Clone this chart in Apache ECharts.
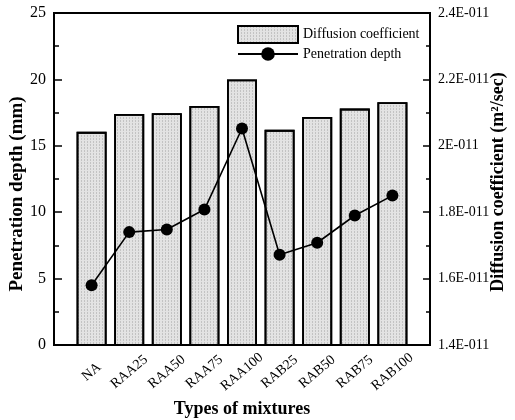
<!DOCTYPE html>
<html><head><meta charset="utf-8">
<script src="https://cdn.jsdelivr.net/npm/echarts@6/dist/echarts.min.js"></script>
<style>html,body{margin:0;padding:0;background:#fff}#c{width:515px;height:420px}</style>
</head><body><div id="c"></div>
<script>
const categories = ['NA','RAA25','RAA50','RAA75','RAA100','RAB25','RAB50','RAB75','RAB100'];
const diffusionCoefficient = [2.042e-11, 2.096e-11, 2.098e-11, 2.12e-11, 2.2e-11, 2.048e-11, 2.087e-11, 2.112e-11, 2.131e-11];
const penetrationDepth = [4.5, 8.5, 8.7, 10.2, 16.3, 6.8, 7.7, 9.75, 11.25];
const leftTicks = {min: 0, max: 25, interval: 5};
const rightTicks = {min: 1.4, max: 2.4, interval: 0.2}; // in units of 1E-011
const SCALE = 1e-11;

const font = 'Liberation Serif';
const chart = echarts.init(document.getElementById('c'), null, {renderer: 'canvas'});
chart.setOption({
  animation: false,
  backgroundColor: '#fff',
  grid: {left: 54, right: 85, top: 13, bottom: 75, show: true, borderColor: '#000', borderWidth: 2,
    backgroundColor: 'transparent', outerBoundsMode: 'none', containLabel: false},
  legend: {
    orient: 'vertical', left: 237, top: 25, padding: 0, itemWidth: 60, itemHeight: 17, itemGap: 3,
    textStyle: {fontFamily: font, fontSize: 14, color: '#000'},
    data: [{name: 'Diffusion coefficient', icon: 'rect'}, {name: 'Penetration depth'}]
  },
  xAxis: {
    type: 'value', min: -1, max: categories.length, interval: 1,
    axisLine: {onZero: false, lineStyle: {color: '#000', width: 2}},
    axisTick: {show: false},
    splitLine: {show: false},
    axisLabel: {rotate: 40, fontFamily: font, fontSize: 14, color: '#000', margin: 27,
      align: 'center', verticalAlign: 'middle', showMinLabel: true, showMaxLabel: true,
      formatter: v => (categories[v] !== undefined ? categories[v] : '')},
    name: 'Types of mixtures', nameLocation: 'middle', nameGap: 55, nameMoveOverlap: false,
    nameTextStyle: {fontFamily: font, fontSize: 18, fontWeight: 'bold', color: '#000'}
  },
  yAxis: [{
    type: 'value', min: leftTicks.min, max: leftTicks.max, interval: leftTicks.interval,
    position: 'left',
    axisLine: {show: true, onZero: false, lineStyle: {color: '#000', width: 2}},
    axisTick: {show: true, inside: true, length: 8, lineStyle: {color: '#000', width: 1.5}},
    minorTick: {show: true, splitNumber: 2, length: 5, lineStyle: {color: '#000', width: 1.5}},
    splitLine: {show: false},
    axisLabel: {fontFamily: font, fontSize: 16, color: '#000', margin: 8},
    name: 'Penetration depth (mm)', nameLocation: 'middle', nameGap: 27, nameRotate: 90, nameMoveOverlap: false,
    nameTextStyle: {fontFamily: font, fontSize: 19, fontWeight: 'bold', color: '#000', padding: [0, 30, 0, 0]}
  }, {
    type: 'value', min: rightTicks.min, max: rightTicks.max, interval: rightTicks.interval,
    position: 'right',
    axisLine: {show: true, onZero: false, lineStyle: {color: '#000', width: 2}},
    axisTick: {show: true, inside: true, length: 7, lineStyle: {color: '#000', width: 1.5}},
    minorTick: {show: true, splitNumber: 2, length: 4, lineStyle: {color: '#000', width: 1.5}},
    splitLine: {show: false},
    axisLabel: {fontFamily: font, fontSize: 14, color: '#000', margin: 8,
      formatter: v => Number(v.toFixed(1)) + 'E-011'},
    name: 'Diffusion coefficient (m²/sec)', nameLocation: 'middle', nameGap: 59, nameRotate: 90, nameMoveOverlap: false,
    nameTextStyle: {fontFamily: font, fontSize: 18, fontWeight: 'bold', color: '#000', padding: [0, 6, 0, 0]}
  }],
  series: [{
    name: 'Diffusion coefficient', type: 'bar', yAxisIndex: 1, barWidth: 30,
    data: diffusionCoefficient.map((v, i) => [i, v / SCALE]),
    itemStyle: {color: '#e3e3e3', borderColor: '#000', borderWidth: 1.8,
      decal: {symbol: 'rect', symbolSize: 1, color: 'rgba(0,0,0,0.14)', dashArrayX: [1, 2], dashArrayY: [2, 1], rotation: 0}},
    z: 1
  }, {
    name: 'Penetration depth', type: 'line', yAxisIndex: 0,
    data: penetrationDepth.map((v, i) => [i, v]),
    symbol: 'circle', symbolSize: 12,
    lineStyle: {color: '#000', width: 1.6},
    itemStyle: {color: '#000'},
    z: 3
  }]
});
</script></body></html>
